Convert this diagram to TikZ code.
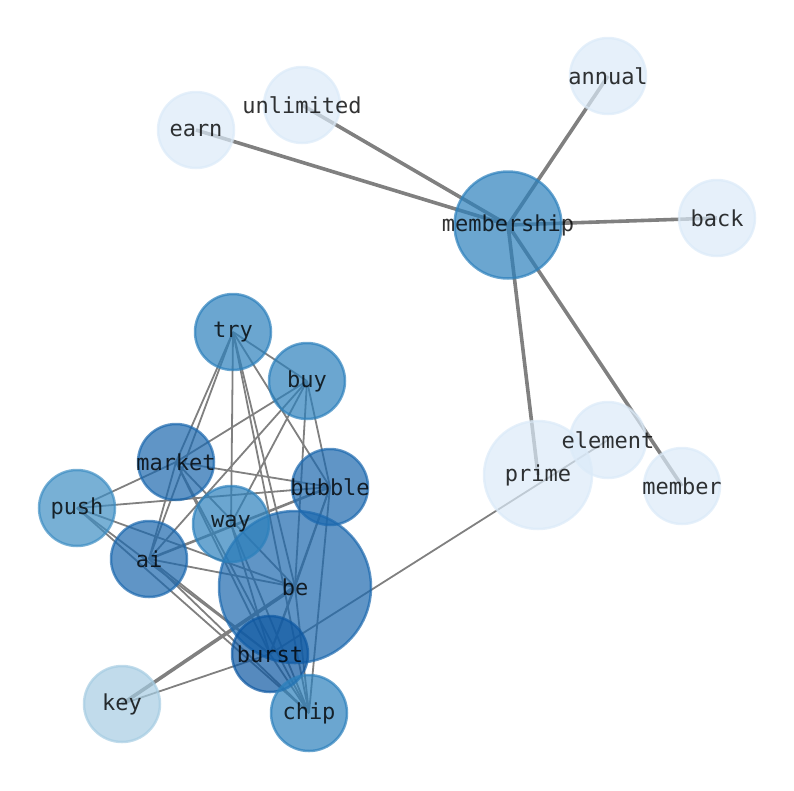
\documentclass[tikz,border=0pt]{standalone}
\usepackage{fontspec}
\setmonofont{DejaVu Sans Mono}
\pgfdeclarelayer{edgelayer}
\pgfsetlayers{edgelayer,main}
\definecolor{cleaf}{RGB}{219,234,248}
\definecolor{ckey}{RGB}{166,204,226}
\definecolor{cpush}{RGB}{62,142,195}
\definecolor{cmid}{RGB}{44,128,188}
\definecolor{cdark}{RGB}{28,104,174}
\definecolor{cburst}{RGB}{14,88,162}
\definecolor{edgegray}{RGB}{128,128,128}
\tikzset{
  vtx/.style={circle, inner sep=0pt, minimum size=#1, fill opacity=0.7, draw opacity=0.7, line width=2.5pt},
  small/.style={vtx=76pt},
  lbl/.style={font=\fontsize{22}{22}\selectfont\ttfamily, text=black, text opacity=0.8, inner sep=0pt},
  thinedge/.style={draw=edgegray, line width=1.8pt},
  medge/.style={draw=edgegray, line width=2.6pt},
  thickedge/.style={draw=edgegray, line width=3.6pt},
}
\begin{document}
\begin{tikzpicture}[x=1pt,y=-1pt]
\useasboundingbox (0,0) rectangle (794,790);
% nodes
\node[vtx=152pt, fill=cdark, draw=cdark] (be) at (295,587) {};
\node[small, fill=cleaf, draw=cleaf] (earn) at (196,130) {};
\node[small, fill=cleaf, draw=cleaf] (unlimited) at (302,105) {};
\node[small, fill=cleaf, draw=cleaf] (annual) at (608,76) {};
\node[small, fill=cleaf, draw=cleaf] (back) at (717,218) {};
\node[vtx=107pt, fill=cmid, draw=cmid] (membership) at (508,225) {};
\node[small, fill=cleaf, draw=cleaf] (element) at (608,440) {};
\node[vtx=108pt, fill=cleaf, draw=cleaf] (prime) at (538,475) {};
\node[small, fill=cleaf, draw=cleaf] (member) at (682,486) {};
\node[small, fill=cmid, draw=cmid] (try) at (233,332) {};
\node[small, fill=cmid, draw=cmid] (buy) at (307,381) {};
\node[small, fill=cdark, draw=cdark] (market) at (176,462) {};
\node[small, fill=cdark, draw=cdark] (bubble) at (330,487) {};
\node[small, fill=cpush, draw=cpush] (push) at (77,508) {};
\node[small, fill=cmid, draw=cmid] (way) at (231,524) {};
\node[small, fill=cdark, draw=cdark] (ai) at (149,559) {};
\node[small, fill=cburst, draw=cburst] (burst) at (270,654) {};
\node[small, fill=ckey, draw=ckey] (key) at (122,704) {};
\node[small, fill=cmid, draw=cmid] (chip) at (309,713) {};
% labels
\foreach \n in {be,earn,unlimited,annual,back,membership,element,prime,member,try,buy,market,bubble,push,way,ai,burst,key,chip}
  \node[lbl] (\n-t) at (\n) {\n};
% edges
\begin{pgfonlayer}{edgelayer}
\foreach \a/\b in {membership/earn, membership/unlimited, membership/annual, membership/back, membership/prime, membership/member}
  \draw[thickedge] (\a.center) -- (\b.center);
\draw[thickedge] (key.center) -- (be.center);
\draw[medge] (ai.center) -- (bubble.center);
\foreach \a/\b in {element/burst, key/burst,
  try/buy, try/market, try/ai, try/way, try/be, try/bubble, try/chip,
  buy/market, buy/ai, buy/way, buy/bubble, buy/be,
  market/push, market/bubble, market/ai, market/be, market/burst, market/chip,
  push/bubble, push/be, push/burst, push/chip,
  ai/be, ai/burst, ai/chip,
  way/burst, way/chip,
  bubble/be, bubble/burst, bubble/chip,
  be/burst, be/chip, burst/chip}
  \draw[thinedge] (\a.center) -- (\b.center);
\end{pgfonlayer}
\end{tikzpicture}
\end{document}
